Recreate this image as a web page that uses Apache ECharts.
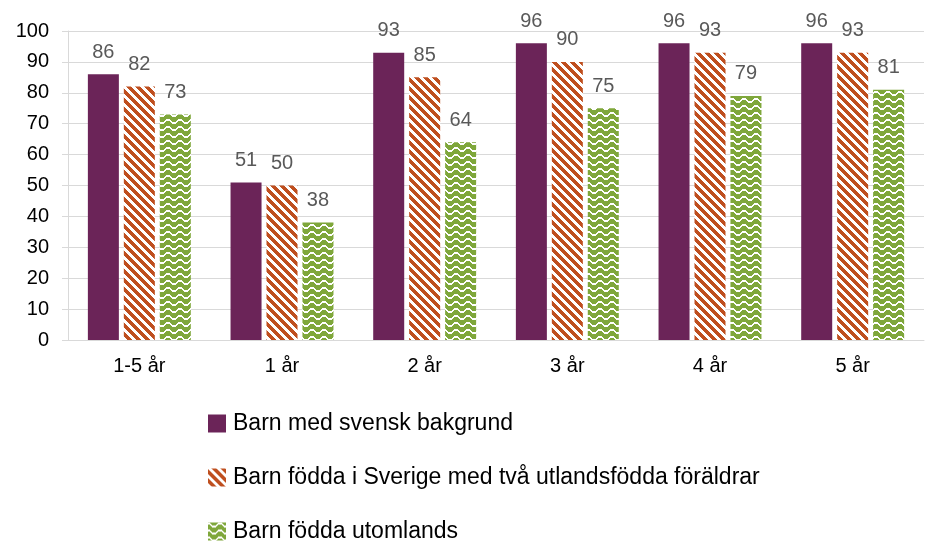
<!DOCTYPE html>
<html>
<head>
<meta charset="utf-8">
<script src="https://cdn.jsdelivr.net/npm/echarts@6/dist/echarts.min.js"></script>
<style>
  html,body{margin:0;padding:0;background:#fff;}
  #chart{width:928px;height:545px;}
</style>
</head>
<body>
<div id="chart"></div>
<script>
// kategorier och värden (procent)
var categories = ['1-5 år', '1 år', '2 år', '3 år', '4 år', '5 år']
var seriesNames = [
  'Barn med svensk bakgrund',
  'Barn födda i Sverige med två utlandsfödda föräldrar',
  'Barn födda utomlands'
]
var svenskBakgrund = [86, 51, 93, 96, 96, 96]
var fottaSverige = [82, 50, 85, 90, 93, 93]
var foddaUtomlands = [73, 38, 64, 75, 79, 81]
var yTicks = [0, 10, 20, 30, 40, 50, 60, 70, 80, 90, 100]

/* mönster för staplarna */
function stripePattern(bg){
  var c = document.createElement('canvas')
  c.width = 9; c.height = 9
  var ctx = c.getContext('2d')
  for(var y=0;y<9;y++){
    for(var x=0;x<9;x++){
      ctx.fillStyle = ((x - y + 9) % 9) < 4 ? '#ffffff' : bg
      ctx.fillRect(x,y,1,1)
    }
  }
  return {image:c, repeat:'repeat'}
}

function zigzagPattern(bg){
  var c = document.createElement('canvas')
  c.width = 12; c.height = 7
  var ctx = c.getContext('2d')
  ctx.fillStyle = bg
  ctx.fillRect(0,0,12,7)
  var wave = [0,0,1,2,3,3,3,3,2,1,0,0]
  ctx.fillStyle = '#ffffff'
  for(var x=0;x<12;x++){
    ctx.fillRect(x,wave[x],1,2)
  }
  return {image:c, repeat:'repeat'}
}

var myChart = echarts.init(document.getElementById('chart'))

var labelStyle = {
  show: true,
  position: 'top',
  distance: 12,
  color: '#595959',
  fontSize: 20,
  fontFamily: 'Liberation Sans, Arial, sans-serif'
}

var option = {
  backgroundColor: '#ffffff',
  animation: false,
  textStyle: { fontFamily: 'Liberation Sans, Arial, sans-serif' },
  grid: {
    left: 68,
    right: 4,
    top: 31,
    bottom: 205
  },
  legend: {
    orient: 'vertical',
    left: 208,
    top: 412,
    padding: 0,
    itemWidth: 18,
    itemHeight: 18,
    itemGap: 31,
    icon: 'rect',
    textStyle: {
      fontSize: 23,
      color: '#000000',
      padding: [0,0,0,2]
    },
    data: seriesNames
  },
  xAxis: {
    type: 'category',
    data: categories,
    axisLine: { lineStyle: { color: '#d9d9d9' } },
    axisTick: { show: false },
    axisLabel: {
      margin: 16,
      fontSize: 20,
      color: '#000000'
    }
  },
  yAxis: {
    type: 'value',
    min: yTicks[0],
    max: yTicks[yTicks.length-1],
    interval: 10,
    axisLine: { show: true, lineStyle: { color: '#d9d9d9' } },
    axisTick: { show: true, length: 6, lineStyle: { color: '#d9d9d9' } },
    axisLabel: {
      margin: 19,
      fontSize: 20,
      color: '#000000'
    },
    splitLine: { lineStyle: { color: '#d9d9d9', width: 1 } }
  },
  series: [
    {
      name: seriesNames[0],
      type: 'bar',
      barWidth: 31,
      barGap: '16%',
      itemStyle: { color: '#6b2458' },
      label: labelStyle,
      data: svenskBakgrund
    },
    {
      name: seriesNames[1],
      type: 'bar',
      barWidth: 31,
      barGap: '16%',
      itemStyle: { color: stripePattern('#bf4f1f') },
      label: labelStyle,
      data: fottaSverige
    },
    {
      name: seriesNames[2],
      type: 'bar',
      barWidth: 31,
      barGap: '16%',
      itemStyle: { color: zigzagPattern('#7fa73b') },
      label: labelStyle,
      data: foddaUtomlands
    }
  ]
}

myChart.setOption(option, true)
</script>
</body>
</html>
